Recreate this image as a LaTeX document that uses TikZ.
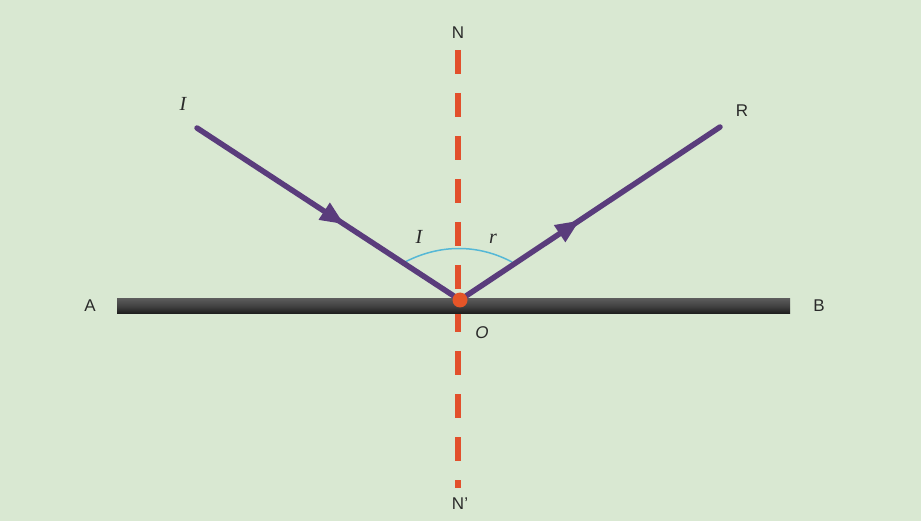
\documentclass[tikz,border=0pt]{standalone}
\usepackage{fontspec}
\setmainfont{Liberation Serif}
\setsansfont{Liberation Sans}
\usetikzlibrary{decorations.markings,arrows.meta}
\definecolor{bg}{HTML}{D9E8D2}
\definecolor{ray}{HTML}{5A3C7C}
\definecolor{normalc}{HTML}{E2502C}
\definecolor{arcc}{HTML}{55B8D6}
\definecolor{lbl}{HTML}{2A2A2A}
\tikzset{
  raypath/.style={draw=ray,line width=5.5pt,line cap=round},
  midarrow/.style={postaction={decorate},decoration={markings,mark=at position #1 with {\arrow{Triangle[length=24pt,width=19pt]}}}},
  sanslbl/.style={font=\sffamily\fontsize{17}{17}\selectfont,text=lbl},
  itlbl/.style={font=\itshape\fontsize{20}{20}\selectfont,text=lbl},
}
\begin{document}
\begin{tikzpicture}[x=1pt,y=-1pt]
\fill[bg] (0,0) rectangle (921,521);
\useasboundingbox (0,0) rectangle (921,521);
% normal line
\coordinate (Ntop) at (458,50);
\coordinate (Nbot) at (458,488);
\draw[normalc,line width=6pt,dash pattern=on 24pt off 19pt] (Ntop) -- (Nbot);
% mirror
\shade[top color=gray!70!black,bottom color=black!90,middle color=gray!50!black,shading=axis] (117,299) rectangle (790,314);
\node[inner sep=0] (mirror) at (453,306) {};
% points
\coordinate (O) at (460,300);
\coordinate (Iend) at (197,128);
\coordinate (Rend) at (720,127);
% arc
\coordinate (aL) at (405,262);
\coordinate (aR) at (512,262);
\draw[arcc,line width=1.5pt] (aL) .. controls (440,244) and (478,244) .. (aR);
% rays
\draw[raypath,ray,midarrow=0.56] (Iend) -- (O);
\draw[raypath,ray,midarrow=0.46] (O) -- (Rend);
\fill[normalc!90!orange] (O) circle (7.5);
% labels
\node[sanslbl] (lA) at (90,306) {A};
\node[sanslbl] (lB) at (819,306) {B};
\node[sanslbl] (lN) at (458,33) {N};
\node[sanslbl] (lN2) at (460,504) {N'};
\node[sanslbl] (lR) at (742,111) {R};
\node[itlbl] (lI) at (183,104) {I};
\node[itlbl] (lI2) at (419,237) {I};
\node[itlbl] (lr) at (493,239) {r};
\node[font=\sffamily\itshape\fontsize{17}{17}\selectfont,text=lbl] (lO) at (482,333) {O};
\end{tikzpicture}
\end{document}
